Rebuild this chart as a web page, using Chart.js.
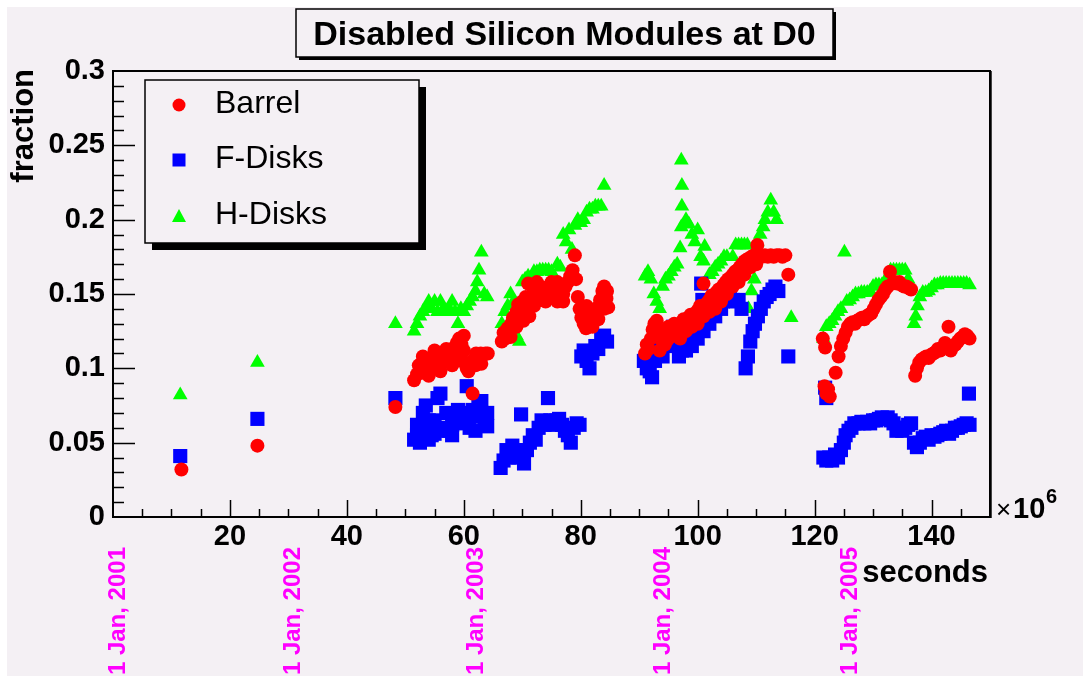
<!DOCTYPE html>
<html>
<head>
<meta charset="utf-8">
<title>Disabled Silicon Modules at D0</title>
<script src="https://cdn.jsdelivr.net/npm/chart.js@4.4.1/dist/chart.umd.min.js"></script>
<style>
  html, body { margin: 0; padding: 0; background: #fff; }
  canvas { display: block; }
</style>
</head>
<body>
<canvas id="chart" width="1083" height="676"></canvas>
<script>
// values: x in 10^6 s, y = fraction of disabled modules
const barrel = [
  [11.7,0.032],[24.7,0.048],[48.3,0.074],
  [51.5,0.092],[52,0.096],[52.3,0.102],[52.7,0.1],[53,0.097],[53.3,0.104],[53.7,0.1],[54,0.103],[54.4,0.107],
  [54.8,0.101],[55.2,0.104],[55.6,0.108],[56,0.103],[56.4,0.106],[56.8,0.11],[57.2,0.105],[57.6,0.112],[58,0.108],
  [58.4,0.114],[58.8,0.117],[59.2,0.12],[59.6,0.116],[60,0.112],[60.2,0.104],[60.5,0.1],[60.8,0.098],[61.5,0.083],
  [61.7,0.106],[62.1,0.11],[62.5,0.108],[62.9,0.11],[63.3,0.109],[63.7,0.11],[64.1,0.11],
  [53,0.108],[54,0.095],[55,0.112],[56,0.098],[57,0.113],[58,0.102],[59,0.11],[60,0.122],[59.5,0.105],[62,0.102],[63,0.103],
  [66.5,0.118],[66.8,0.124],[67.1,0.12],[67.5,0.127],[67.8,0.122],[68.1,0.13],[68.4,0.134],[68.7,0.128],[69,0.138],
  [69.3,0.143],[69.6,0.136],[70,0.145],[70.3,0.14],[70.6,0.148],[71,0.157],[71.2,0.135],[71.5,0.145],[71.8,0.15],
  [72.2,0.148],[72.6,0.152],[73,0.146],[73.4,0.15],[73.8,0.154],[74.2,0.15],[74.6,0.155],[75,0.152],[75.4,0.147],
  [75.8,0.151],[76.2,0.153],[76.6,0.148],[77,0.15],[77.4,0.155],[77.8,0.158],[78.2,0.162],[78.6,0.166],[79,0.176],
  [79.2,0.16],[79.5,0.148],[79.8,0.14],[80.1,0.134],[80.5,0.13],[80.9,0.127],[81.3,0.131],[81.7,0.135],[82.1,0.133],
  [82.5,0.138],[82.9,0.141],[83.3,0.146],[83.7,0.152],[84,0.155],[84.4,0.147],[84.7,0.141],
  [70.2,0.132],[71,0.14],[72,0.142],[73,0.155],[74,0.145],[75,0.158],[76,0.145],[77,0.145],[76,0.158],[72.5,0.158],
  [69,0.128],[68,0.121],[80.5,0.14],[81,0.142],[82,0.128],[83,0.133],[84,0.14],[84.5,0.152],
  [91,0.11],[91.3,0.116],[91.6,0.113],[92,0.12],[92.3,0.126],[92.6,0.13],[93,0.132],[93.3,0.126],[93.7,0.121],
  [94,0.118],[94.4,0.116],[94.8,0.119],[95.2,0.121],[95.6,0.124],[96,0.122],[96.4,0.126],[96.8,0.129],[97.2,0.127],
  [97.6,0.133],[98,0.131],[98.4,0.134],[98.8,0.136],[99.2,0.133],[99.6,0.137],[100,0.139],[100.4,0.142],[101,0.157],
  [101.2,0.14],[101.6,0.144],[102,0.146],[102.4,0.149],[102.8,0.147],[103.2,0.151],[103.6,0.153],[104,0.152],
  [104.4,0.156],[104.8,0.158],[105.2,0.16],[105.6,0.161],[106,0.163],[106.4,0.165],[106.8,0.166],[107.2,0.168],
  [107.6,0.17],[108,0.172],[108.4,0.173],[108.8,0.174],[109.2,0.175],[109.6,0.176],[110.2,0.183],[110.5,0.176],
  [111,0.175],[111.5,0.176],[112,0.175],[112.5,0.176],[113,0.175],[113.5,0.176],[114,0.176],[114.5,0.175],
  [115,0.176],[115.5,0.163],
  [93.5,0.112],[95,0.128],[96,0.13],[97,0.12],[98,0.125],[99,0.128],[100,0.13],[101,0.135],[102,0.138],
  [103,0.14],[104,0.145],[105,0.15],[106,0.155],[107,0.158],[108,0.163],[109,0.168],[110,0.17],
  [121.4,0.12],[121.8,0.114],[121.7,0.088],[122,0.083],[122.3,0.086],[122.6,0.081],[123.6,0.097],[124.1,0.108],
  [124.5,0.115],[124.9,0.12],[125.3,0.124],[125.7,0.128],[126.1,0.13],[126.5,0.131],[126.9,0.13],[127.3,0.132],
  [127.7,0.133],[128.1,0.134],[128.5,0.133],[128.9,0.135],[129.3,0.136],[129.7,0.137],[130.1,0.14],[130.5,0.143],
  [130.9,0.146],[131.3,0.148],[131.7,0.15],[132.1,0.153],[132.5,0.155],[132.9,0.165],[133.3,0.157],[133.7,0.158],
  [134.1,0.157],[134.5,0.158],[134.9,0.156],[135.3,0.155],[135.7,0.155],[136.1,0.154],[136.5,0.153],[137.2,0.095],
  [137.5,0.1],[137.9,0.104],[138.3,0.106],[138.7,0.107],[139.1,0.108],[139.5,0.107],[139.9,0.109],[140.3,0.11],
  [140.7,0.111],[141.1,0.113],[141.5,0.112],[141.9,0.114],[142.3,0.117],[142.9,0.128],[143.3,0.112],[143.7,0.115],
  [144.1,0.116],[144.5,0.118],[144.9,0.12],[145.3,0.121],[145.7,0.123],[146.1,0.122],[146.5,0.12]
];
const fDisks = [
  [11.5,0.041],[24.7,0.066],[48.3,0.08],
  [51.5,0.052],[52,0.055],[52.5,0.05],[53,0.07],[53.5,0.075],[54,0.052],[54.5,0.055],[55,0.056],[55.5,0.08],
  [56,0.083],[56.5,0.058],[57,0.06],[57.5,0.058],[58,0.062],[58.5,0.065],[59,0.063],[59.5,0.066],[60,0.068],
  [60.5,0.088],[61,0.07],[61.5,0.072],[62,0.068],[62.5,0.075],[63,0.07],[63.5,0.065],[64,0.07],[64,0.061],
  [53,0.06],[54,0.065],[55,0.065],[57,0.07],[58,0.055],[59,0.072],[61,0.06],[62,0.058],[63,0.078],[52,0.062],
  [66.3,0.033],[66.8,0.038],[67.3,0.045],[67.8,0.04],[68.3,0.048],[68.8,0.045],[69.3,0.04],[69.8,0.069],
  [70.3,0.036],[70.8,0.045],[71.3,0.05],[71.8,0.055],[72.3,0.052],[72.8,0.06],[73.3,0.065],[73.8,0.062],
  [74.4,0.08],[74.8,0.065],[75.3,0.062],[75.8,0.065],[76.3,0.066],[76.8,0.062],[77.3,0.058],[77.8,0.055],
  [78.3,0.05],[78.8,0.06],[79.3,0.063],[79.8,0.062],
  [80.1,0.108],[80.5,0.112],[81,0.105],[81.5,0.1],[82,0.11],[82.5,0.115],[83,0.113],[83.5,0.12],[84,0.122],[84.5,0.118],
  [90.8,0.105],[91.3,0.1],[91.8,0.098],[92.2,0.094],[92.7,0.105],[93.2,0.11],[93.7,0.118],[94.5,0.12],[95.2,0.125],
  [95.8,0.128],[96.3,0.118],[96.8,0.108],[97.3,0.112],[97.8,0.118],[98.3,0.122],[98.8,0.125],[99.3,0.13],[99.8,0.13],
  [100.6,0.157],[100.8,0.146],[101.3,0.135],[101.8,0.138],[102.3,0.142],[102.8,0.145],[103.3,0.148],[103.8,0.146],
  [104.3,0.145],[104.8,0.146],[105.5,0.147],[106,0.146],[106.5,0.145],[107,0.146],[107.5,0.14],[108.2,0.1],
  [108.6,0.108],[109,0.118],[109.4,0.125],[109.8,0.13],[110.3,0.135],[110.8,0.14],[111.3,0.145],[111.8,0.148],
  [112.3,0.15],[112.8,0.153],[113.3,0.155],[113.8,0.152],[115.5,0.108],
  [98,0.112],[99,0.115],[100,0.12],[101,0.125],[102,0.13],[103,0.135],[104,0.14],[94,0.108],[95,0.115],
  [121.8,0.087],[122,0.08],[121.5,0.04],[122,0.038],[122.5,0.04],[123,0.038],[123.5,0.042],[124,0.04],[124.5,0.045],
  [125,0.05],[125.3,0.055],[125.8,0.058],[126.3,0.06],[126.8,0.063],[127.5,0.063],[128,0.064],[128.5,0.063],
  [129,0.064],[129.5,0.063],[130,0.065],[130.5,0.065],[131,0.066],[131.5,0.067],[132,0.066],[132.5,0.067],
  [133,0.065],[133.5,0.063],[134,0.058],[134.5,0.06],[135,0.058],[135.5,0.06],[136,0.062],[136.5,0.063],
  [137,0.05],[137.5,0.047],[138,0.05],[138.5,0.053],[139,0.054],[139.5,0.052],[140,0.055],[140.5,0.054],
  [141,0.055],[141.5,0.056],[142,0.057],[142.5,0.058],[143,0.056],[143.5,0.058],[144,0.06],[144.5,0.06],
  [145,0.061],[145.5,0.062],[146,0.063],[146.5,0.062],[146.4,0.083]
];
const hDisks = [
  [11.5,0.082],[24.7,0.104],[48.3,0.13],
  [51.5,0.125],[52,0.13],[52.5,0.135],[53,0.138],[53.5,0.14],[54,0.145],[54.5,0.14],[55,0.145],[55.5,0.138],
  [56,0.145],[56.5,0.14],[57,0.138],[57.5,0.14],[58,0.145],[58.5,0.138],[59,0.13],[59.5,0.14],[60,0.138],
  [60.5,0.142],[61,0.145],[61.5,0.148],[62,0.152],[62.3,0.158],[62.6,0.166],[63,0.178],[63.5,0.15],[64,0.148],
  [66.5,0.13],[67,0.138],[67.5,0.142],[68,0.15],[68.5,0.145],[69,0.122],[69.5,0.118],[70,0.158],[70.5,0.16],
  [71,0.162],[71.5,0.16],[72,0.165],[72.5,0.165],[73,0.166],[73.5,0.166],[74,0.166],[74.5,0.166],[75,0.165],
  [76,0.17],[76.5,0.168],[77,0.19],[77.5,0.185],[78,0.193],[78.5,0.18],[79,0.196],[79.5,0.2],[80,0.198],
  [80.5,0.2],[81,0.205],[81.5,0.207],[82,0.207],[82.5,0.209],[83,0.209],[83.5,0.209],[84,0.223],
  [91,0.162],[91.5,0.165],[92,0.16],[92.5,0.15],[93,0.145],[93.5,0.14],[94,0.155],[94.5,0.16],[95,0.162],
  [95.5,0.165],[96,0.168],[96.5,0.17],[97,0.181],[97.2,0.195],[97.3,0.209],[97.3,0.223],[97.2,0.24],[98,0.2],
  [98.5,0.197],[99,0.19],[99.5,0.185],[100,0.193],[100.5,0.175],[101,0.172],[101.2,0.182],[102,0.163],
  [102.5,0.165],[103,0.168],[103.5,0.17],[104,0.172],[104.5,0.175],[105,0.175],[106,0.175],[106.5,0.183],
  [107,0.183],[107.5,0.183],[108,0.183],[108.5,0.183],[108.7,0.14],[109.2,0.152],[109.7,0.16],[110.2,0.185],
  [110.7,0.19],[111.2,0.195],[111.5,0.2],[112,0.205],[112.5,0.213],[113,0.205],[113.5,0.2],[116,0.134],
  [121.5,0.12],[122,0.128],[122.5,0.13],[123,0.132],[123.5,0.135],[124,0.138],[124.5,0.14],[125.1,0.178],
  [125.5,0.145],[126,0.146],[126.5,0.148],[127,0.15],[127.5,0.15],[128,0.151],[128.5,0.151],[129,0.151],
  [129.5,0.152],[130,0.155],[130.5,0.156],[131,0.156],[131.5,0.156],[132,0.158],[132.5,0.162],[133,0.166],
  [133.5,0.166],[134,0.166],[134.5,0.166],[135,0.166],[135.5,0.166],[136,0.16],[136.5,0.155],[137,0.13],
  [137.3,0.135],[137.6,0.142],[138,0.148],[138.5,0.151],[139,0.151],[139.5,0.152],[140,0.154],[140.5,0.156],
  [141,0.156],[141.5,0.157],[142,0.157],[142.5,0.157],[143,0.157],[143.5,0.157],[144,0.157],[144.5,0.157],
  [145,0.157],[145.5,0.157],[146,0.157],[146.5,0.156]
];
const seriesNames = ['Barrel', 'F-Disks', 'H-Disks'];
const dateLabels = ['1 Jan, 2001', '1 Jan, 2002', '1 Jan, 2003', '1 Jan, 2004', '1 Jan, 2005'];
const dateX = [0.5, 30.4, 61.7, 93.8, 125.7];

const PAD = '#f4f0f4';
const FONT = '"Liberation Sans", Arial, Helvetica, sans-serif';

function marker(ctx, style, color, x, y, r) {
  ctx.fillStyle = color;
  ctx.beginPath();
  if (style === 'circle') {
    ctx.arc(x, y, r, 0, Math.PI * 2);
  } else if (style === 'rect') {
    ctx.rect(x - r, y - r, 2 * r, 2 * r);
  } else {
    ctx.moveTo(x, y - r);
    ctx.lineTo(x + r, y + r * 0.85);
    ctx.lineTo(x - r, y + r * 0.85);
    ctx.closePath();
  }
  ctx.fill();
}

const rootLook = {
  id: 'rootLook',
  beforeDraw(chart) {
    const ctx = chart.ctx;
    ctx.save();
    ctx.fillStyle = '#fff';
    ctx.fillRect(0, 0, chart.width, chart.height);
    ctx.fillStyle = PAD;
    ctx.fillRect(7, 7, chart.width - 7, chart.height - 7);
    ctx.restore();
  },
  afterDatasetsDraw(chart) {
    const ctx = chart.ctx;
    const a = chart.chartArea;
    const xs = chart.scales.x, ys = chart.scales.y;
    ctx.save();

    // frame
    ctx.strokeStyle = '#000';
    ctx.lineWidth = 2;
    ctx.strokeRect(a.left, a.top, a.right - a.left, a.bottom - a.top);
    ctx.strokeStyle = '#444';
    ctx.lineWidth = 1;
    ctx.beginPath();
    ctx.moveTo(a.right + 1.5, a.top);
    ctx.lineTo(a.right + 1.5, a.bottom + 1);
    ctx.stroke();

    // ticks pointing inwards
    ctx.strokeStyle = '#000';
    ctx.lineWidth = 1.5;
    ctx.beginPath();
    for (let i = 1; i < 30; i++) {
      const py = Math.round(ys.getPixelForValue(i * 0.01)) + 0.5;
      const len = i % 5 === 0 ? 22 : 11;
      ctx.moveTo(a.left, py);
      ctx.lineTo(a.left + len, py);
    }
    for (let v = 5; v < 150; v += 5) {
      const px = Math.round(xs.getPixelForValue(v)) + 0.5;
      const len = v % 20 === 0 ? 17 : 8;
      ctx.moveTo(px, a.bottom);
      ctx.lineTo(px, a.bottom - len);
    }
    ctx.stroke();

    // legend box with shadow
    const lx = 145, ly = 80, lw = 274, lh = 163;
    ctx.fillStyle = '#000';
    ctx.fillRect(lx + 7, ly + 7, lw, lh);
    ctx.fillStyle = PAD;
    ctx.fillRect(lx, ly, lw, lh);
    ctx.lineWidth = 1.5;
    ctx.strokeRect(lx, ly, lw, lh);
    const styles = ['circle', 'rect', 'tri'];
    const colors = ['#ff0000', '#0000ff', '#00ff00'];
    const sizes = [6.5, 6.5, 7];
    const rowsY = [105, 160, 216];
    ctx.font = '32px ' + FONT;
    ctx.textBaseline = 'middle';
    ctx.textAlign = 'left';
    seriesNames.forEach((name, i) => {
      marker(ctx, styles[i], colors[i], 179, rowsY[i], sizes[i]);
      ctx.fillStyle = '#000';
      ctx.fillText(name, 215, rowsY[i] - 1);
    });

    // title box
    const tx = 296, ty = 9, tw = 537, th = 48;
    ctx.fillStyle = '#000';
    ctx.fillRect(tx + 3, ty + 3, tw, th);
    ctx.fillStyle = PAD;
    ctx.fillRect(tx, ty, tw, th);
    ctx.lineWidth = 1.5;
    ctx.strokeRect(tx, ty, tw, th);
    ctx.fillStyle = '#000';
    ctx.font = 'bold 34px ' + FONT;
    ctx.textAlign = 'center';
    ctx.textBaseline = 'alphabetic';
    ctx.fillText('Disabled Silicon Modules at D0', tx + tw / 2, 45);

    // axis titles
    ctx.font = 'bold 31px ' + FONT;
    ctx.textAlign = 'right';
    ctx.fillText('seconds', a.right - 2, 582);
    ctx.save();
    ctx.translate(33, a.top - 2);
    ctx.rotate(-Math.PI / 2);
    ctx.fillText('fraction', 0, 0);
    ctx.restore();

    // exponent
    ctx.textAlign = 'left';
    ctx.font = '26px ' + FONT;
    ctx.fillText('\u00d7', 996, 518);
    ctx.font = 'bold 29px ' + FONT;
    ctx.fillText('10', 1013, 518);
    ctx.font = 'bold 20px ' + FONT;
    ctx.fillText('6', 1046, 503);

    // calendar marks
    ctx.fillStyle = '#ff00ff';
    ctx.font = 'bold 24px ' + FONT;
    ctx.textAlign = 'right';
    dateLabels.forEach((t, i) => {
      const px = xs.getPixelForValue(dateX[i]);
      ctx.save();
      ctx.translate(px + 9, 547);
      ctx.rotate(-Math.PI / 2);
      ctx.fillText(t, 0, 0);
      ctx.restore();
    });

    ctx.restore();
  }
};

const toPts = arr => arr.map(p => ({ x: p[0], y: p[1] }));

new Chart(document.getElementById('chart'), {
  type: 'scatter',
  data: {
    datasets: [
      { label: seriesNames[0], data: toPts(barrel), pointStyle: 'circle', pointRadius: 7,
        backgroundColor: '#ff0000', borderWidth: 0 },
      { label: seriesNames[1], data: toPts(fDisks), pointStyle: 'rect', pointRadius: 10,
        backgroundColor: '#0000ff', borderWidth: 0 },
      { label: seriesNames[2], data: toPts(hDisks), pointStyle: 'triangle', pointRadius: 8.5,
        backgroundColor: '#00ff00', borderWidth: 0 }
    ]
  },
  options: {
    responsive: false,
    animation: false,
    devicePixelRatio: 1,
    layout: { padding: { top: 71, right: 93, left: 0, bottom: 0 } },
    plugins: { legend: { display: false }, tooltip: { enabled: false } },
    elements: { point: { hoverRadius: 0 } },
    scales: {
      x: {
        type: 'linear', min: 0, max: 150,
        grid: { display: false, drawTicks: false },
        border: { display: false },
        ticks: {
          stepSize: 20, includeBounds: false, autoSkip: false, maxRotation: 0, padding: 3,
          color: '#000', font: { family: FONT, size: 29, weight: 'bold' },
          callback: v => (v === 0 || v % 20 !== 0) ? '' : String(v)
        },
        afterFit: s => { s.height = 159; }
      },
      y: {
        min: 0, max: 0.3,
        grid: { display: false, drawTicks: false },
        border: { display: false },
        ticks: {
          stepSize: 0.05, autoSkip: false, padding: 8,
          color: '#000', font: { family: FONT, size: 29, weight: 'bold' },
          callback: v => String(parseFloat(v.toFixed(2)))
        },
        afterFit: s => { s.width = 113; }
      }
    }
  },
  plugins: [rootLook]
});
</script>
</body>
</html>
